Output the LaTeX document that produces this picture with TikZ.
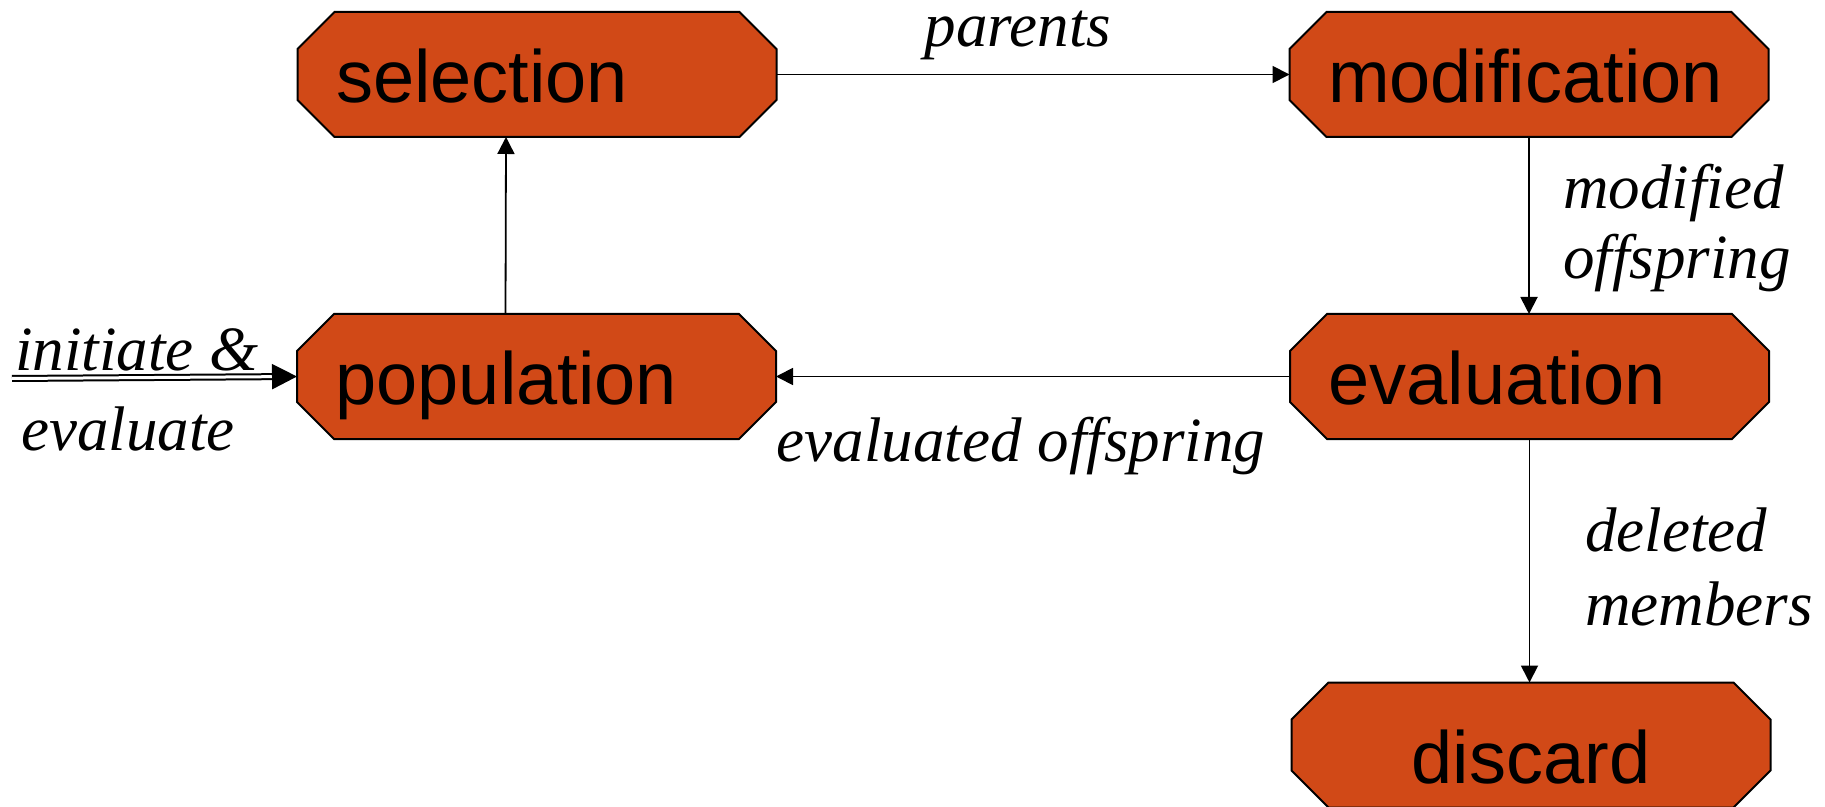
\documentclass[tikz,border=0pt]{standalone}
\usepackage{fontspec}
\setmainfont{Liberation Sans}
\newfontfamily\lblfont{Liberation Serif}
\usetikzlibrary{arrows.meta, backgrounds}
\definecolor{boxorange}{RGB}{209,73,23}

\begin{document}
\begin{tikzpicture}[x=0.5pt, y=-0.5pt,
    stage/.style={rectangle, outer sep=0pt, minimum width=239.5pt, minimum height=62.5pt,
        inner xsep=19pt, inner ysep=0pt, text width=201pt, align=left, text height=28pt, text depth=0pt,
        font=\fontsize{37}{40}\selectfont},
    stagebox/.style={draw=black, line width=1pt, fill=boxorange},
    flow/.style={line width=0.9pt, -{Triangle[length=8.5pt, width=8.5pt]}},
    initflow/.style={double, line width=1pt, double distance=1.5pt, -{Triangle[length=12.5pt, width=12.5pt]}},
    lbl/.style={font=\lblfont\itshape\fontsize{31.5}{#1}\selectfont, align=left, inner sep=0pt},
    lbl/.default=35]
    \useasboundingbox (0, 0) rectangle (1825, 807);
    \node[stage] (0) at (537, 74.5) {selection};
    \node[stage] (1) at (1529, 74.5) {modification};
    \node[stage] (2) at (536.5, 376.5) {population};
    \node[stage] (3) at (1529.5, 376.5) {evaluation};
	\node[stage, align=center, text height=38pt] (4) at (1531, 745) {discard};
	\coordinate (5) at (12, 378.5);
	% octagons behind the texts
	\begin{scope}[on background layer]
	\foreach \n in {0,...,4}
		\draw[stagebox] ([xshift=18.5pt]\n.north west) -- ([xshift=-18.5pt]\n.north east)
			-- ([yshift=-18.5pt]\n.north east) -- ([yshift=18.5pt]\n.south east)
			-- ([xshift=-18.5pt]\n.south east) -- ([xshift=18.5pt]\n.south west)
			-- ([yshift=18.5pt]\n.south west) -- ([yshift=-18.5pt]\n.north west) -- cycle;
	\end{scope}
	\draw[flow] (0.east) -- (1.west);
	\draw[flow] (1.south) -- (1.south |- 3.north);
	\draw[flow] (3.west) -- (2.east);
	\draw[flow] (3.south) -- (3.south |- 4.north);
	\draw[flow] ([xshift=-15.5pt]2.north) -- ([xshift=-15.5pt]0.south);
	\draw[initflow] (5) -- (2.west);
	\node[lbl, anchor=base] (6) at (1018, 47) {parents};
	\node[lbl, anchor=base west] (7) at (1563, 279) {modified\\offspring};
	\node[lbl, anchor=base] (8) at (1021, 461) {evaluated offspring};
	\node[lbl=37, anchor=base west] (9) at (1585, 625) {deleted\\members};
	\node[lbl=40, anchor=base west] (10) at (15, 451) {initiate \&\\\hspace*{3pt}evaluate};
\end{tikzpicture}
\end{document}
